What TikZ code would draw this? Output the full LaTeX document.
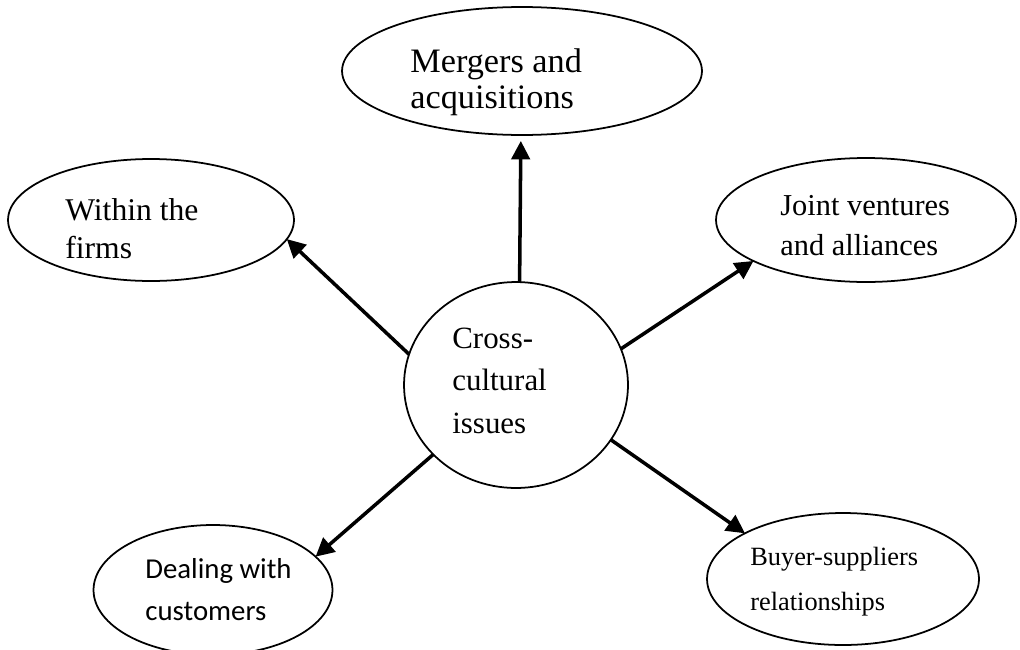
\documentclass[tikz,border=0pt]{standalone}
\usepackage{fontspec}
\setmainfont{Liberation Serif}
\newfontfamily\calibrifont{Carlito}
\usetikzlibrary{arrows.meta,shapes.geometric}

\tikzset{
	bubble/.style={draw, ellipse, line width=1pt, inner sep=0pt, outer sep=0pt},
	blurb/.style={inner sep=0pt, align=left, anchor=base west},
	link/.style={-{Triangle[length=10.5pt,width=10.5pt]}, line width=2pt},
}

\begin{document}
\begin{tikzpicture}[x=0.02cm, y=-0.02cm]
				\useasboundingbox (0,0) rectangle (1020,649);
				
				% centre (blurbs sit on the baseline of their last line)
				\node[bubble, minimum width=4.48cm, minimum height=4.12cm] (hub) at (516,385) {};
				\node[blurb, font=\fontsize{17.6}{24}\selectfont] (hub-text) at (452,433) {Cross-\\cultural\\issues};
				
				% the five fields
				\node[bubble, minimum width=7.2cm, minimum height=2.56cm] (merger) at (522,71) {};
				\node[blurb, font=\fontsize{19.5}{20}\selectfont] (merger-text) at (410,108) {Mergers and\\acquisitions};
				
				\node[bubble, minimum width=5.72cm, minimum height=2.44cm] (firms) at (151,220) {};
				\node[blurb, font=\fontsize{18}{21.5}\selectfont] (firms-text) at (65,258) {Within the\\firms};
				
				\node[bubble, minimum width=6cm, minimum height=2.48cm] (joint) at (866,220) {};
				\node[blurb, font=\fontsize{17.3}{22.7}\selectfont] (joint-text) at (780,255) {Joint ventures\\and alliances};
				
				\node[bubble, minimum width=4.78cm, minimum height=2.6cm] (dealing) at (213,590) {};
				\node[blurb, font=\calibrifont\fontsize{16.4}{23.8}\selectfont] (dealing-text) at (145,620) {Dealing with\\customers};
				
				\node[bubble, minimum width=5.44cm, minimum height=2.64cm] (buyer) at (843,579) {};
				\node[blurb, font=\fontsize{15}{25.5}\selectfont] (buyer-text) at (750,610) {Buyer-suppliers\\relationships};
				
				% arrows
				\draw[link, shorten >=3.4pt] (hub.88) -- (merger.-91);
				\draw[link] (hub.164) -- (firms.-8);
				\draw[link] (hub.19) -- (joint.200);
				\draw[link] (hub.220) -- (dealing.18);
				\draw[link] (hub.-30) -- (buyer.155);
			\end{tikzpicture}
\end{document}
